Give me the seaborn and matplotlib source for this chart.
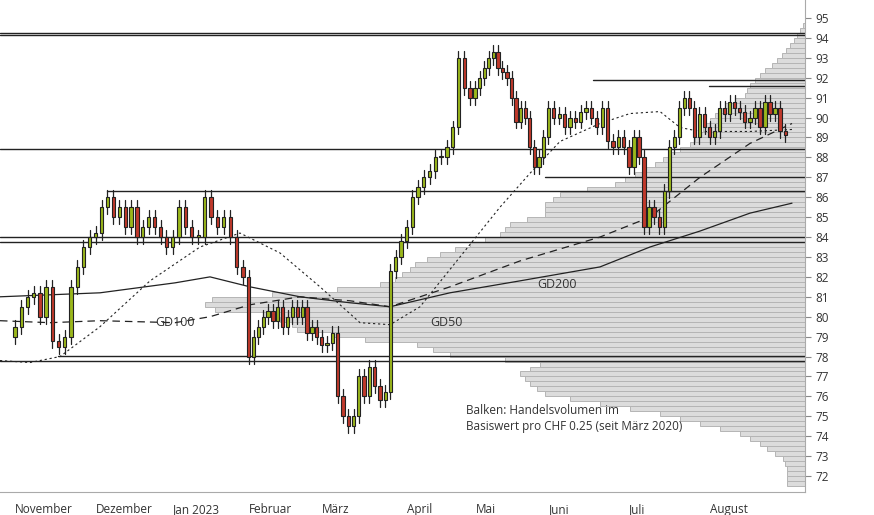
import matplotlib
matplotlib.use("Agg")
import matplotlib.pyplot as plt
import matplotlib.transforms as mtrans
import seaborn as sns
import numpy as np

sns.set_style("white")
plt.rcParams['font.family'] = ['Open Sans', 'DejaVu Sans']

months = ["November", "Dezember", "Jan 2023", "Februar", "März", "April", "Mai", "Juni", "Juli", "August"]
month_days = [21, 20, 20, 19, 22, 18, 19, 21, 21, 21]
closes_by_month = [
    [79.5, 80.5, 81.0, 81.2, 80.0, 81.5, 78.8, 78.5, 79.0, 81.5, 82.5, 83.5, 84.0],
    [84.2, 85.5, 86.0, 85.0, 85.5, 84.5, 85.5, 84.0, 84.5, 85.0, 84.5, 84.0, 83.5],
    [84.0, 85.5, 84.5, 84.0, 84.0, 86.0, 85.0, 84.5, 85.0, 84.0, 82.5, 82.0],
    [78.0, 79.0, 79.5, 80.0, 80.3, 79.8, 80.5, 79.5, 80.0, 80.5, 80.0, 80.5, 79.2, 79.5, 79.0],
    [78.6, 78.7, 79.2, 76.0, 75.0, 74.5, 75.0, 77.0, 76.0, 77.5, 76.5, 75.8, 76.2, 82.3, 83.0, 83.8],
    [84.5, 86.0, 86.5, 87.0, 87.3, 88.0, 88.0, 88.5, 89.5, 93.0, 91.5, 91.0],
    [91.5, 92.0, 92.5, 93.0, 93.3, 92.5, 92.3, 92.0, 91.0, 89.8, 90.5, 90.0, 88.5, 87.5, 88.0, 89.0],
    [90.5, 90.0, 90.2, 89.5, 90.0, 89.8, 90.3, 90.5, 90.0, 89.5, 90.5, 88.8, 88.5, 89.0, 88.5],
    [87.5, 89.0, 88.0, 84.5, 85.5, 85.0, 84.5, 86.3, 88.5, 89.0, 90.5, 91.0, 90.5, 89.0, 90.2, 89.5],
    [89.0, 89.3, 90.5, 90.2, 90.8, 90.5, 90.3, 89.8, 90.0, 90.5, 89.5, 90.8, 90.2, 90.5, 89.3, 89.1],
]
open_first = 79.0

# moving averages, anchors in chart pixel x
ma_px = [0, 50, 100, 175, 210, 250, 300, 350, 390, 450, 520, 600, 650, 700, 750, 792]
gd200 = [81.0, 81.1, 81.2, 81.7, 82.0, 81.5, 81.0, 80.7, 80.5, 81.2, 81.8, 82.5, 83.5, 84.3, 85.2, 85.7]
gd100 = [79.8, 79.7, 79.8, 79.7, 80.0, 80.6, 81.0, 80.8, 80.5, 81.5, 82.8, 84.0, 85.0, 87.0, 88.7, 89.7]
gd50_px = [0, 30, 60, 100, 150, 200, 240, 280, 320, 360, 390, 420, 460, 500, 530, 560, 600, 630, 660, 680, 700, 750, 792]
gd50 = [77.8, 77.7, 78.0, 79.5, 81.8, 83.5, 84.2, 83.2, 81.5, 79.7, 79.6, 80.5, 83.0, 85.5, 87.2, 88.8, 89.7, 90.2, 90.3, 89.5, 89.3, 89.3, 89.4]

# volume profile, 0.25 bins starting at 71.5
vol_start = 71.5
vol = [18, 18, 18, 18, 20, 22, 30, 38, 45, 55, 65, 85, 105, 125, 145, 175,
       205, 235, 260, 268, 275, 280, 285, 275, 265, 300, 355, 372, 388, 440, 472, 508,
       513, 525, 542, 590, 600, 593, 533, 468, 425, 410, 403, 395, 390, 378, 365, 350,
       335, 320, 305, 300, 295, 278, 260, 260, 260, 252, 245, 218, 190, 180, 170, 160,
       150, 142, 135, 125, 115, 110, 105, 102, 100, 95, 90, 85, 80, 70, 60, 58,
       55, 50, 45, 40, 33, 28, 23, 19, 15, 11, 8, 5, 2]

# support / resistance lines: price, start pixel x
levels = [(94.25, 0), (94.15, 0), (91.9, 593), (91.6, 709), (88.4, 0), (87.0, 545), (86.3, 107), (84.0, 0), (83.75, 0), (78.05, 58), (77.8, 0)]

W, H = 874, 515
PXDAY = 3.84
xmin = -12 / PXDAY
xmax = xmin + 805 / PXDAY
def px2idx(p):
    return xmin + np.array(p) / PXDAY

mstarts = np.concatenate([[0], np.cumsum(month_days)[:-1]])
xs, opens, closes = [], [], []
prev = open_first
for m, cl in enumerate(closes_by_month):
    step = month_days[m] / len(cl)
    for j, c in enumerate(cl):
        xs.append(mstarts[m] + (j + 0.5) * step)
        opens.append(prev)
        closes.append(c)
        prev = c

fig = plt.figure(figsize=(W / 100, H / 100), dpi=100)
rect = [0, 23 / H, 805 / W, 492 / H]
ax2 = fig.add_axes(rect)
ax = fig.add_axes(rect, sharey=ax2)
ax.patch.set_visible(False)
ymin, ymax = 71.2, 95.9

prices = vol_start + 0.25 * np.arange(len(vol))
ax2.barh(prices, vol, height=0.25, color="#dcdcdc", edgecolor="#b5b5b5", linewidth=0.7, align="edge")
ax2.set_xlim(805, 0)
ax2.set_ylim(ymin, ymax)
ax2.set_xticks([])
for s in ax2.spines.values():
    s.set_visible(False)

ax.set_xlim(xmin, xmax)
ax.set_ylim(ymin, ymax)

for p, x0 in levels:
    ax.plot([px2idx(x0), xmax], [p, p], color="#222222", lw=1.0, zorder=2)

ax.plot(px2idx(ma_px), gd200, color="#222222", lw=0.9, zorder=3)
ax.plot(px2idx(ma_px), gd100, color="#222222", lw=0.9, ls=(0, (6, 4)), zorder=3)
ax.plot(px2idx(gd50_px), gd50, color="#222222", lw=0.8, ls=(0, (2, 2.5)), zorder=3)

for x, o, c in zip(xs, opens, closes):
    hi = max(o, c) + 0.35
    lo = min(o, c) - 0.35
    col = "#9bb81b" if c >= o else "#c0392b"
    ax.plot([x, x], [lo, hi], color="#222222", lw=0.9, zorder=4)
    ax.bar(x, max(abs(c - o), 0.08), bottom=min(o, c), width=0.85, color=col,
           edgecolor="#222222", linewidth=0.8, zorder=5)

ax.text(px2idx(155), 79.55, "GD100", fontsize=9, color="#333333", zorder=6)
ax.text(px2idx(430), 79.55, "GD50", fontsize=9, color="#333333", zorder=6)
ax.text(px2idx(537), 81.45, "GD200", fontsize=9, color="#333333", zorder=6)
ax.text(px2idx(466), 74.3, "Balken: Handelsvolumen im\nBasiswert pro CHF 0.25 (seit März 2020)",
        fontsize=8.5, color="#333333", zorder=6, linespacing=1.3)

ax.set_xticks(mstarts)
ax.set_xticklabels(months, ha="left", fontsize=8.5, color="#333333")
ax.tick_params(axis="x", length=6, direction="out", pad=2, color="#888888")
off = mtrans.ScaledTranslation(3 / 100, 0, fig.dpi_scale_trans)
for lab in ax.get_xticklabels():
    lab.set_transform(lab.get_transform() + off)

ax.yaxis.tick_right()
ax.set_yticks(range(72, 96))
ax.tick_params(axis="y", labelsize=8.5, labelcolor="#333333", length=4, color="#888888")
ax2.tick_params(axis="y", left=False, labelleft=False, right=False, labelright=False)
for k in ["top", "left"]:
    ax.spines[k].set_visible(False)
ax.spines["right"].set_color("#aaaaaa")
ax.spines["bottom"].set_color("#aaaaaa")

fig.savefig("out.png", dpi=100)
